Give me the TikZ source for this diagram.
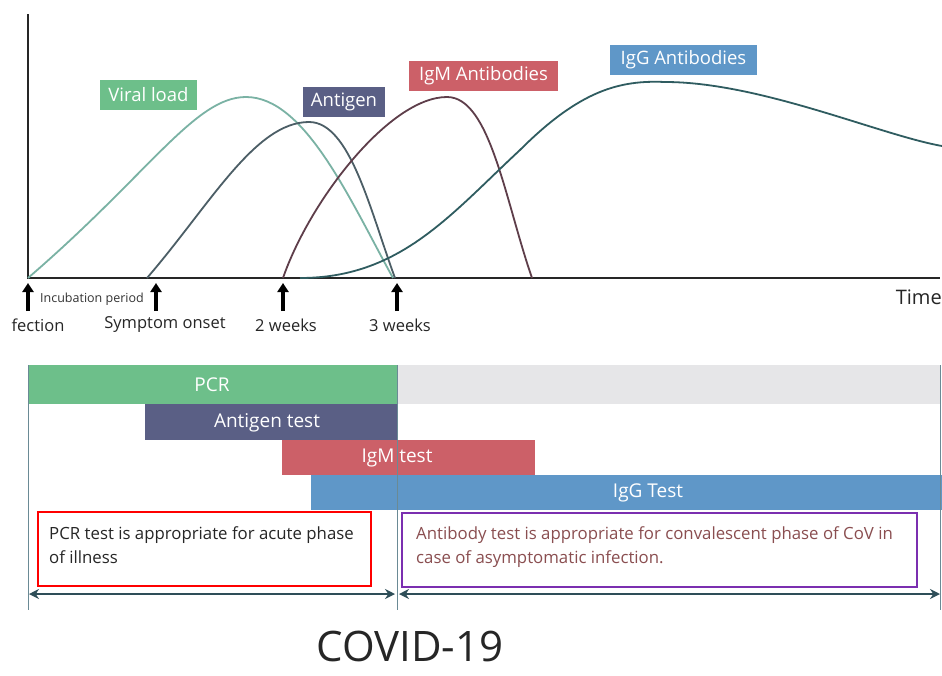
\documentclass[tikz,border=0pt]{standalone}
\usepackage{fontspec}
\setmainfont{Open Sans}
\usetikzlibrary{arrows.meta}
\definecolor{cViral}{HTML}{6DBF8A}
\definecolor{cAnti}{HTML}{5A5F85}
\definecolor{cIgM}{HTML}{CC6068}
\definecolor{cIgG}{HTML}{5F97C8}
\definecolor{cGray}{HTML}{E6E6E8}
\definecolor{lViral}{HTML}{7AB2A4}
\definecolor{lAnti}{HTML}{4C5E66}
\definecolor{lIgM}{HTML}{5E3E4A}
\definecolor{lIgG}{HTML}{2F5C60}
\definecolor{cLine}{HTML}{6A8A95}
\definecolor{cArr}{HTML}{2E4E58}
\definecolor{cPurple}{HTML}{7B2FB0}
\definecolor{cBrown}{HTML}{8A4E50}
\tikzset{
  lbl/.style={fill=#1, text=white, minimum height=30pt, inner sep=0pt, font=\fontsize{18.5}{20}\selectfont},
  barbox/.style={fill=#1, anchor=north west, inner sep=0pt, draw=none},
  bartext/.style={text=white, font=\fontsize{19}{21}\selectfont, inner sep=0pt},
  curve/.style={line width=1.8pt, #1},
  uparr/.style={-{Triangle[width=11pt,length=9pt]}, line width=4pt, black},
  tick/.style={font=\fontsize{16.5}{18}\selectfont, text=black!85, inner sep=0pt},
  vline/.style={cLine, line width=0.8pt},
  dbl/.style={{Stealth[width=10pt,length=10pt]}-{Stealth[width=10pt,length=10pt]}, cArr, line width=1.6pt},
  note/.style={anchor=north west, inner sep=0pt, align=left, font=\fontsize{16.8}{24}\selectfont}
}
\begin{document}
\begin{tikzpicture}[x=1pt,y=-1pt]
\useasboundingbox[fill=white] (0,0) rectangle (942,675);
% axes
\draw[line width=2.2pt, black!85] (28,14) -- (28,278) -- (940,278);
% curves
\draw[curve=lViral] (28,278) .. controls (150,173) and (195,97) .. (246,97) .. controls (305,97) and (350,200) .. (393,278);
\draw[curve=lAnti] (147,278) .. controls (210,205) and (255,122) .. (309,122) .. controls (350,122) and (370,210) .. (395,278);
\draw[curve=lIgM] (283,278) .. controls (310,200) and (390,97) .. (447,97) .. controls (490,97) and (505,200) .. (532,278);
\draw[curve=lIgG] (300,278) .. controls (400,278) and (450,215) .. (520,150) .. controls (580,90) and (620,80) .. (665,82) .. controls (760,82) and (880,135) .. (942,146);
% curve labels
\node[lbl=cViral, minimum width=97pt] (lv) at (148.5,95) {Viral load};
\node[lbl=cAnti, minimum width=82pt] (la) at (344,102) {Antigen};
\node[lbl=cIgM, minimum width=149pt] (lm) at (483.5,76) {IgM Antibodies};
\node[lbl=cIgG, minimum width=147pt] (lg) at (683.5,60) {IgG Antibodies};
% up arrows
\coordinate (a0s) at (28,311); \coordinate (a0e) at (28,283);
\coordinate (a1s) at (156,311); \coordinate (a1e) at (156,283);
\coordinate (a2s) at (283,311); \coordinate (a2e) at (283,283);
\coordinate (a3s) at (397,311); \coordinate (a3e) at (397,283);
\draw[uparr] (a0s) -- (a0e);
\draw[uparr] (a1s) -- (a1e);
\draw[uparr] (a2s) -- (a2e);
\draw[uparr] (a3s) -- (a3e);
\node[inner sep=0pt, font=\fontsize{12.5}{14}\selectfont, text=black!80] (inc) at (92,299) {Incubation period};
\node[tick] (t0) at (38,325) {fection};
\node[tick] (t1) at (165,325) {Symptom onset};
\node[tick] (t2) at (286,325) {2 weeks};
\node[tick] (t3) at (400,325) {3 weeks};
\node[inner sep=0pt, anchor=east, font=\fontsize{20}{22}\selectfont, text=black!85] (time) at (942,297) {Time};
% bars
\node[barbox=cViral, minimum width=369pt, minimum height=39pt] (pcr) at (28,365) {};
\node[barbox=cGray, minimum width=543pt, minimum height=39pt] (gray) at (397,365) {};
\node[barbox=cAnti, minimum width=252pt, minimum height=36pt] (ant) at (145,404) {};
\node[barbox=cIgM, minimum width=253pt, minimum height=35pt] (igm) at (282,440) {};
\node[barbox=cIgG, minimum width=631pt, minimum height=35pt] (igg) at (311,475) {};
\node[bartext] (pcrt) at (212,385) {PCR};
\node[bartext] (antt) at (267,423) {Antigen test};
\node[bartext] (igmt) at (397,458) {IgM test};
\node[bartext] (iggt) at (648,493) {IgG Test};
% vertical lines
\draw[vline] (28,365) -- (28,610);
\draw[vline] (397,365) -- (397,610);
\draw[vline] (940,365) -- (940,610);
% note boxes
\draw[red, line width=2.4pt] (38,512) rectangle (371,586);
\draw[cPurple, line width=2.4pt] (402,513) rectangle (917,587);
\node[note, text=black!85] (n1) at (49,526) {PCR test is appropriate for acute phase\\of illness};
\node[note, text=cBrown] (n2) at (416,526) {Antibody test is appropriate for convalescent phase of CoV in\\case of asymptomatic infection.};
% double arrows
\coordinate (d0) at (29,594); \coordinate (d1) at (395,594);
\coordinate (d2) at (399,594); \coordinate (d3) at (940,594);
\draw[dbl] (d0) -- (d1);
\draw[dbl] (d2) -- (d3);
% title
\node[inner sep=0pt, font=\fontsize{42}{46}\selectfont, text=black!85] (title) at (410,646) {COVID-19};
\end{tikzpicture}
\end{document}
